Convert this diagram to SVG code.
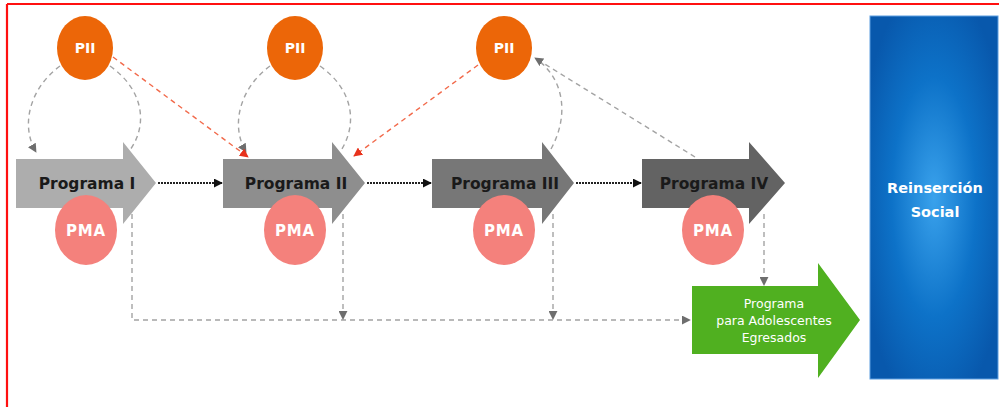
<svg xmlns="http://www.w3.org/2000/svg" width="999" height="407" viewBox="0 0 999 407">
<style>
.dash{fill:none;stroke:#a3a3a3;stroke-width:1.4;stroke-dasharray:5 4}
.red{fill:none;stroke:#f26a4b;stroke-width:1.4;stroke-dasharray:5 4}
.dot{fill:none;stroke:#222;stroke-width:2.2;stroke-dasharray:2 1}
.pii{fill:#ec6608}
.pma{fill:#f4817c}
.lbl{font-family:"DejaVu Sans",sans-serif;font-weight:bold;text-anchor:middle}
.prog{font-size:15.5px;fill:#1a1a1a}
.wt{fill:#fff}
</style>
<defs>
<marker id="mg" viewBox="0 0 10 10" refX="9" refY="5" markerWidth="9" markerHeight="9" markerUnits="userSpaceOnUse" orient="auto"><path d="M0,0 L10,5 L0,10 Z" fill="#6e6e6e"/></marker>
<marker id="mr" viewBox="0 0 10 10" refX="9" refY="5" markerWidth="9" markerHeight="9" markerUnits="userSpaceOnUse" orient="auto"><path d="M0,0 L10,5 L0,10 Z" fill="#e8321c"/></marker>
<marker id="mb" viewBox="0 0 10 10" refX="9" refY="5" markerWidth="9" markerHeight="9" markerUnits="userSpaceOnUse" orient="auto"><path d="M0,0 L10,5 L0,10 Z" fill="#111"/></marker>
<radialGradient id="blue" cx="0.5" cy="0.5" r="0.6">
<stop offset="0" stop-color="#3aa2ec"/>
<stop offset="0.55" stop-color="#0d72c8"/>
<stop offset="1" stop-color="#0858ac"/>
</radialGradient>
</defs>
<rect width="999" height="407" fill="#fff"/>
<path d="M7,4 H999 M7,4 V407" fill="none" stroke="#ff1010" stroke-width="2.2"/>

<g id="connectors">
<path class="dash" d="M60,66 C30,88 20,125 36,152" marker-end="url(#mg)"/>
<path class="dash" d="M110,66 C144,90 148,125 130,150"/>
<path class="dash" d="M270,66 C240,88 230,125 246,152" marker-end="url(#mg)"/>
<path class="dash" d="M320,66 C354,90 358,125 340,152"/>
<path class="dash" d="M551,149 C568,118 566,82 538,60"/>
<path class="dash" d="M695,157 L535,58" marker-end="url(#mg)"/>
<path class="red" d="M113,57 L248,157" marker-end="url(#mr)"/>
<path class="red" d="M478,65 L354,156" marker-end="url(#mr)"/>
<path class="dot" d="M158,183 H222" marker-end="url(#mb)"/>
<path class="dot" d="M367,183 H431" marker-end="url(#mb)"/>
<path class="dot" d="M576,183 H641" marker-end="url(#mb)"/>
<path class="dash" d="M132,214 V320 H690" marker-end="url(#mg)"/>
<path class="dash" d="M343,214 V319" marker-end="url(#mg)"/>
<path class="dash" d="M553,214 V319" marker-end="url(#mg)"/>
<path class="dash" d="M764,214 V285" marker-end="url(#mg)"/>
</g>

<g id="pii1"><ellipse class="pii" cx="85" cy="48" rx="28" ry="32"/><text class="lbl wt" x="85" y="53" font-size="14">PII</text></g>
<g id="pii2"><ellipse class="pii" cx="295" cy="48" rx="28" ry="32"/><text class="lbl wt" x="295" y="53" font-size="14">PII</text></g>
<g id="pii3"><ellipse class="pii" cx="504" cy="48" rx="28" ry="32"/><text class="lbl wt" x="504" y="53" font-size="14">PII</text></g>

<g id="prog1"><path d="M16,159 H123 V142 L156,183 L123,224 V208 H16 Z" fill="#adadad"/><text class="lbl prog" x="87" y="189">Programa I</text></g>
<g id="prog2"><path d="M223,159 H332 V142 L365,183 L332,224 V208 H223 Z" fill="#8e8e8e"/><text class="lbl prog" x="296" y="189">Programa II</text></g>
<g id="prog3"><path d="M432,159 H542 V142 L574,183 L542,224 V208 H432 Z" fill="#777777"/><text class="lbl prog" x="505" y="189">Programa III</text></g>
<g id="prog4"><path d="M642,159 H749 V142 L785,183 L749,224 V208 H642 Z" fill="#636363"/><text class="lbl prog" x="714" y="189">Programa IV</text></g>

<g id="pma1"><ellipse class="pma" cx="86" cy="230" rx="31" ry="35"/><text class="lbl wt" x="86" y="236" font-size="15" letter-spacing="0.8">PMA</text></g>
<g id="pma2"><ellipse class="pma" cx="295" cy="230" rx="31" ry="35"/><text class="lbl wt" x="295" y="236" font-size="15" letter-spacing="0.8">PMA</text></g>
<g id="pma3"><ellipse class="pma" cx="504" cy="230" rx="31" ry="35"/><text class="lbl wt" x="504" y="236" font-size="15" letter-spacing="0.8">PMA</text></g>
<g id="pma4"><ellipse class="pma" cx="713" cy="230" rx="31" ry="35"/><text class="lbl wt" x="713" y="236" font-size="15" letter-spacing="0.8">PMA</text></g>

<g id="egresados"><path d="M692,286 H818 V263 L860,320 L818,378 V354 H692 Z" fill="#50b020"/>
<text font-family="DejaVu Sans, sans-serif" font-size="12.5" fill="#fff" text-anchor="middle"><tspan x="774" y="308">Programa</tspan><tspan x="774" y="325">para Adolescentes</tspan><tspan x="774" y="342">Egresados</tspan></text></g>

<g id="reinsercion"><rect x="870" y="16" width="128" height="363" fill="url(#blue)" stroke="#5d9ee0" stroke-width="1"/>
<text class="lbl wt" font-size="14.5"><tspan x="935" y="193">Reinserción</tspan><tspan x="935" y="217">Social</tspan></text></g>
</svg>
